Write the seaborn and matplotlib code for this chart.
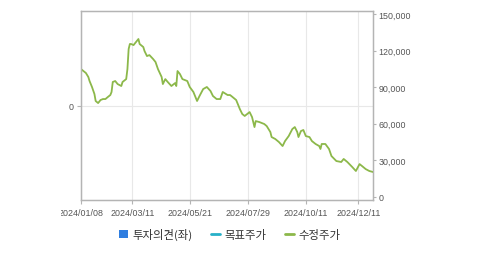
import matplotlib
matplotlib.use("Agg")
import matplotlib.pyplot as plt
import seaborn as sns
import pandas as pd
from matplotlib.lines import Line2D
from matplotlib.patches import Patch
from matplotlib.transforms import Bbox, IdentityTransform, TransformedBbox

# ---- data (trading-day index, adjusted price) ----
day_index = [0, 2, 4, 6, 7, 9, 11, 12, 14, 16, 18, 20, 22, 24, 25, 26, 28, 30, 33, 34,
             37, 38, 39, 40, 41, 43, 45, 47, 48, 51, 52, 54, 56, 59, 61, 63, 66, 67, 69, 71,
             74, 77, 78, 79, 81, 83, 87, 89, 92, 95, 97, 100, 103, 106, 108, 111, 114, 116, 120, 122,
             124, 127, 129, 130, 132, 134, 138, 140, 142, 143, 146, 150, 152, 155, 156, 159, 162, 165, 167, 170,
             173, 175, 177, 178, 180, 182, 184, 187, 189, 192, 195, 196, 197, 200, 203, 205, 209, 213, 215, 218,
             222, 225, 228, 230, 233, 236, 239]
adj_price = [104800, 103200, 101600, 98300, 95000, 90100, 84300, 78600, 76900, 79400, 80200, 80200, 81900, 83500, 86000, 94200, 95000, 92500, 90900, 94200,
             96600, 104800, 121300, 125400, 125400, 124500, 127000, 129500, 125400, 122900, 119600, 115500, 116300, 113100, 110600, 104800, 98300, 92500, 96600, 94200,
             90900, 93300, 90900, 103200, 100700, 96600, 95000, 90100, 86000, 78600, 82700, 88400, 90100, 86800, 82700, 80200, 80200, 86000, 83500, 83500,
             81900, 79400, 74500, 72000, 67900, 66300, 69500, 65400, 57200, 62100, 61300, 59700, 58000, 53100, 49000, 47400, 44900, 41600, 45700, 49800,
             55600, 57200, 53100, 49000, 53900, 54800, 49800, 49000, 45700, 43300, 41600, 39200, 43300, 43300, 39200, 33400, 29300, 28500, 31000, 28500,
             24400, 21100, 26800, 25200, 22700, 21100, 20300]

tick_positions = [0, 42, 89, 137, 184, 227]
tick_labels = ["2024/01/08", "2024/03/11", "2024/05/21", "2024/07/29", "2024/10/11", "2024/12/11"]
price_ticks = [0, 30000, 60000, 90000, 120000, 150000]
legend_labels = ["투자의견(좌)", "목표주가", "수정주가"]

df = pd.DataFrame({"day": day_index, "price": adj_price})

sns.set_theme(style="white")
plt.rcParams["font.family"] = ["Liberation Sans", "Noto Sans CJK KR", "DejaVu Sans"]

fig = plt.figure(figsize=(4.79, 2.55), dpi=100)
ax = fig.add_axes([81 / 479, 1 - 201 / 255, 292 / 479, 189 / 255])
ax2 = ax.twinx()

spine_c = "#b4b4b4"
text_c = "#555555"
grid_c = "#e8e8e8"

# left axis (investment opinion)
ax.set_ylim(-1, 1)
ax.set_yticks([0])
ax.set_yticklabels(["0"])
ax.set_xlim(0, 239)
ax.set_xticks(tick_positions)
ax.set_xticklabels(tick_labels)
ax.grid(True, color=grid_c, linewidth=0.8)
ax.set_axisbelow(True)

# right axis (price)
sns.lineplot(data=df, x="day", y="price", ax=ax2, color="#8cb84a", linewidth=1.3)
ax2.set_ylim(-2700, 152500)
ax2.set_yticks(price_ticks)
ax2.set_yticklabels([f"{v:,}" for v in price_ticks])
ax2.set_xlim(0, 239)
ax2.set_xlabel("")
ax2.set_ylabel("")
ax.set_xlabel("")
ax.set_ylabel("")
ax2.grid(False)

for a in (ax, ax2):
    for s in a.spines.values():
        s.set_color(spine_c)
        s.set_linewidth(0.9)
        s.set_visible(True)

ax.tick_params(axis="x", which="both", length=3, width=0.8, color=spine_c,
               labelsize=6.4, labelcolor=text_c, pad=2.5, bottom=True)
ax.tick_params(axis="y", which="both", length=3, width=0.8, color=spine_c,
               labelsize=6.4, labelcolor=text_c, pad=2, left=True)
ax2.tick_params(axis="y", which="both", length=2.5, width=0.8, color=spine_c,
                labelsize=6.4, labelcolor=text_c, pad=1.5, right=True)

# the first date label is cut at the left edge of the chart canvas
clip = TransformedBbox(Bbox([[61, 0], [479, 255]]), IdentityTransform())
first = ax.get_xticklabels()[0]
first.set_clip_on(True)
first.set_clip_box(clip)

handles = [
    Patch(facecolor="#2f7ee0", edgecolor="none"),
    Line2D([0], [0], color="#27b0c8", linewidth=2),
    Line2D([0], [0], color="#8cb84a", linewidth=2),
]
leg = fig.legend(handles, legend_labels, loc="center", bbox_to_anchor=(230 / 479, 1 - 235 / 255),
                 ncol=3, frameon=False, handlelength=0.8, handleheight=0.8, handletextpad=0.4,
                 columnspacing=1.6, prop={"family": ["Noto Sans CJK KR"], "size": 8.2})
for t in leg.get_texts():
    t.set_color("#333333")

fig.savefig("out.png", dpi=100)
